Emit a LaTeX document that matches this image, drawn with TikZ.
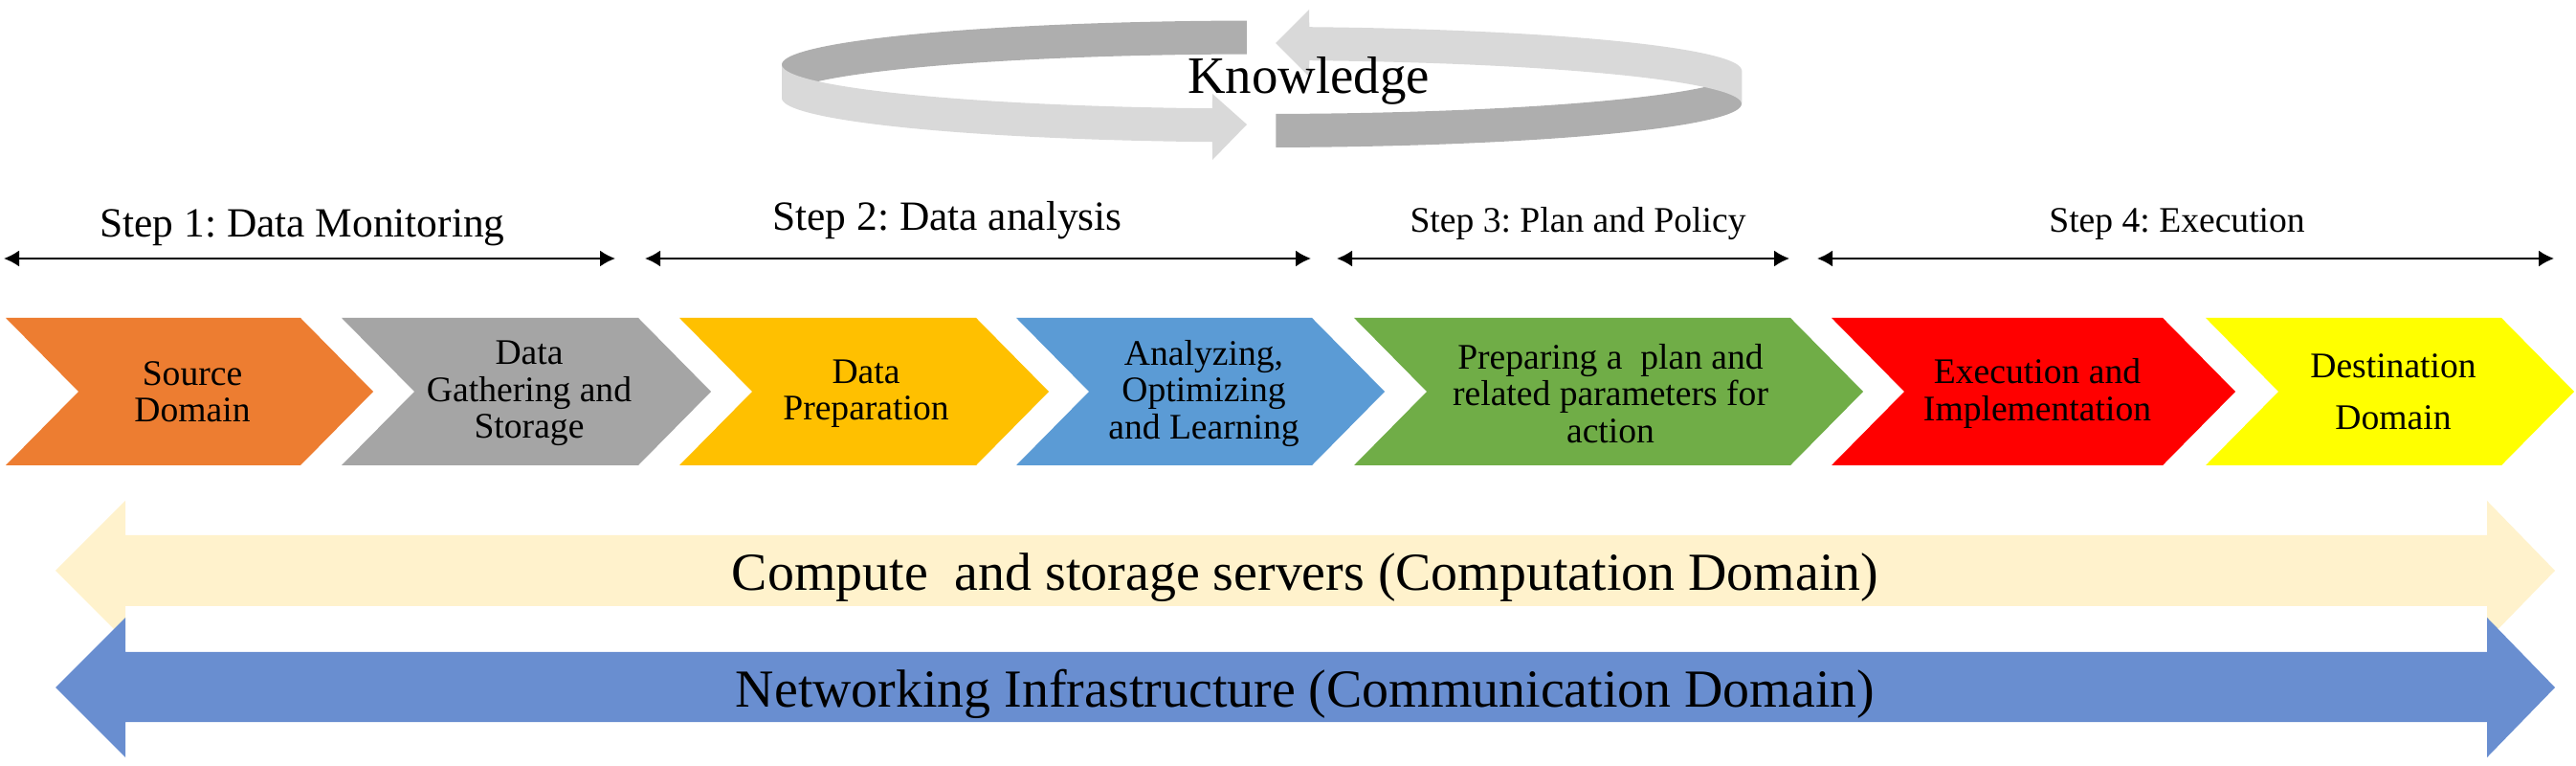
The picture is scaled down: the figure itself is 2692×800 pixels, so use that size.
\documentclass[tikz,border=0pt]{standalone}
\usepackage{fontspec}
\setmainfont{Liberation Serif}
\usetikzlibrary{arrows.meta}
\frenchspacing

\definecolor{srcorange}{HTML}{ED7D31}
\definecolor{gathergray}{HTML}{A5A5A5}
\definecolor{prepgold}{HTML}{FFC000}
\definecolor{analyzeblue}{HTML}{5B9BD5}
\definecolor{plangreen}{HTML}{70AD47}
\definecolor{execred}{HTML}{FF0000}
\definecolor{destyellow}{HTML}{FFFF00}
\definecolor{computefill}{HTML}{FFF2CC}
\definecolor{netfill}{HTML}{698ED0}
\definecolor{ringdark}{HTML}{AEAEAE}
\definecolor{ringlight}{HTML}{D9D9D9}

\begin{document}
\begin{tikzpicture}[x=0.1mm, y=-0.1mm,
        chevtext/.style={align=center, font=\fontsize{10.7}{10.9}\selectfont},
        bigstep/.style={anchor=base, font=\fontsize{12.35}{14}\selectfont},
        smallstep/.style={anchor=base, font=\fontsize{10.7}{13}\selectfont},
        steparrow/.style={<->, >={Latex[length=1.6mm,width=1.7mm]}, line width=0.2mm},
        bandtext/.style={anchor=base, font=\fontsize{15.9}{19}\selectfont}]
    \useasboundingbox (0,0) rectangle (2692,800);

    % knowledge ring
    \fill[ringdark] plot[domain=91.8:180, samples=40] ({1318.5+501.5*cos(\x)}, {67.5-46*sin(\x)})
        -- plot[domain=180:91.8, samples=40] ({1318.5+501.5*cos(\x)}, {102.5-46*sin(\x)}) -- cycle;
    \fill[ringdark] plot[domain=271.7:360, samples=40] ({1318.5+501.5*cos(\x)}, {73.5-45.5*sin(\x)})
        -- plot[domain=360:271.7, samples=40] ({1318.5+501.5*cos(\x)}, {108.5-45.5*sin(\x)}) -- cycle;
    \fill[ringlight] plot[domain=180:264.1, samples=40] ({1318.5+501.5*cos(\x)}, {67.5-46*sin(\x)})
        -- (1267,98) -- (1303,130) -- (1267,167)
        -- plot[domain=264.1:180, samples=40] ({1318.5+501.5*cos(\x)}, {102.5-46*sin(\x)}) -- cycle;
    \fill[ringlight] plot[domain=0:84.3, samples=40] ({1318.5+501.5*cos(\x)}, {73.5-45.5*sin(\x)})
        -- (1368,10) -- (1333,45) -- (1368,80)
        -- plot[domain=84.3:0, samples=40] ({1318.5+501.5*cos(\x)}, {108.5-45.5*sin(\x)}) -- cycle;
    \node[anchor=base, font=\fontsize{15.6}{19}\selectfont] (know) at (1367.5,98) {Knowledge};

    % steps
    \coordinate (s1a) at (4,270);    \coordinate (s1b) at (643,270);
    \coordinate (s2a) at (674,270);  \coordinate (s2b) at (1370,270);
    \coordinate (s3a) at (1397,270); \coordinate (s3b) at (1870,270);
    \coordinate (s4a) at (1899,270); \coordinate (s4b) at (2669,270);
    \draw[steparrow] (s1a) -- (s1b);
    \draw[steparrow] (s2a) -- (s2b);
    \draw[steparrow] (s3a) -- (s3b);
    \draw[steparrow] (s4a) -- (s4b);
    \node[bigstep] (step1) at (316,248) {Step 1: Data Monitoring};
    \node[bigstep] (step2) at (990,241) {Step 2: Data analysis};
    \node[smallstep] (step3) at (1649,243) {Step 3: Plan and Policy};
    \node[smallstep] (step4) at (2275,243) {Step 4: Execution};

    % chevrons
    \fill[srcorange] (6,332) -- (314,332) -- (390,409) -- (314,486) -- (6,486) -- (82,409) -- cycle;
    \fill[gathergray] (357,332) -- (667,332) -- (743,409) -- (667,486) -- (357,486) -- (433,409) -- cycle;
    \fill[prepgold] (710,332) -- (1020,332) -- (1096,409) -- (1020,486) -- (710,486) -- (786,409) -- cycle;
    \fill[analyzeblue] (1062,332) -- (1371,332) -- (1447,409) -- (1371,486) -- (1062,486) -- (1138,409) -- cycle;
    \fill[plangreen] (1415,332) -- (1871,332) -- (1947,409) -- (1871,486) -- (1415,486) -- (1491,409) -- cycle;
    \fill[execred] (1914,332) -- (2260,332) -- (2336,409) -- (2260,486) -- (1914,486) -- (1990,409) -- cycle;
    \fill[destyellow] (2305,332) -- (2614,332) -- (2690,409) -- (2614,486) -- (2305,486) -- (2381,409) -- cycle;
    \node[chevtext] (src) at (201,409) {Source\\Domain};
    \node[chevtext] (gather) at (553,411) {Data\\Gathering and\\Storage};
    \node[chevtext] (prep) at (905,411) {Data\\Preparation};
    \node[chevtext] (analyze) at (1258,411) {Analyzing,\\Optimizing\\and Learning};
    \node[chevtext] (plan) at (1683,411) {Preparing a\ \ plan and\\related parameters for\\action};
    \node[chevtext] (exec) at (2129,411) {Execution and\\Implementation};
    \node[chevtext, font=\fontsize{10.7}{15.4}\selectfont] (dest) at (2501,409) {Destination\\Domain};

    % domains
    \fill[computefill] (58,596) -- (131,523) -- (131,559) -- (2599,559) -- (2599,523) -- (2670,596)
        -- (2599,669) -- (2599,633) -- (131,633) -- (131,669) -- cycle;
    \fill[netfill] (58,718) -- (131,645) -- (131,681) -- (2599,681) -- (2599,645) -- (2670,718)
        -- (2599,791) -- (2599,754) -- (131,754) -- (131,791) -- cycle;
    \node[bandtext] (comp) at (1364,617) {Compute\ \ and storage servers (Computation Domain)};
    \node[bandtext] (net) at (1364,738) {Networking Infrastructure (Communication Domain)};
\end{tikzpicture}
\end{document}
